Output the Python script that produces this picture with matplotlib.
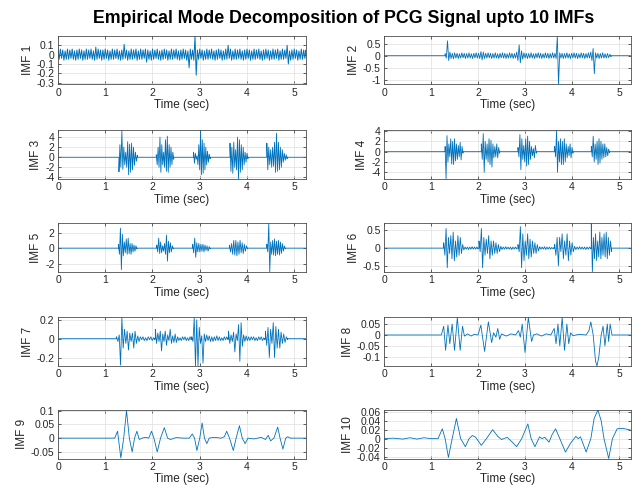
import numpy as np
import matplotlib
matplotlib.use('Agg')
import matplotlib.pyplot as plt
from matplotlib.ticker import FuncFormatter

plt.rcParams['font.family'] = ['Liberation Sans', 'DejaVu Sans']
plt.rcParams['axes.unicode_minus'] = False

T_END = 5.25
LINE_COLOR = '#0072BD'

# ---- bursty IMFs: burst start / end times (sec) and the peaks read inside each burst ----
imf1_on = [0.0]
imf1_off = [5.25]
imf1_vals = [[
    0.05, -0.05, 0.06, -0.04, 0.05, -0.06, 0.04, -0.05, 0.06, -0.05,
    0.05, -0.04, 0.06, -0.05, 0.04, -0.06, 0.05, -0.05, 0.06, -0.04,
    0.05, -0.06, 0.04, -0.05, 0.06, -0.05, 0.05, -0.04, 0.06, -0.05,
    0.04, -0.06, 0.08, -0.05, 0.06, -0.04, 0.05, -0.06, 0.05, -0.05,
    0.06, -0.04, 0.05, -0.06, 0.04, -0.05, 0.06, -0.05, 0.05, -0.04,
    0.06, -0.05, 0.04, -0.06, 0.05, -0.05, 0.11, -0.04, 0.05, -0.06,
    0.04, -0.05, 0.06, -0.05, 0.05, -0.04, 0.06, -0.06, 0.04, -0.05,
    0.06, -0.05, 0.05, -0.04, 0.06, -0.08, 0.05, -0.05, 0.04, -0.06,
    0.06, -0.05, 0.05, -0.04, 0.06, -0.05, 0.04, -0.06, 0.05, -0.05,
    0.06, -0.04, 0.05, -0.06, 0.04, -0.05, 0.06, -0.05, 0.05, -0.04,
    0.06, -0.05, 0.04, -0.06, 0.05, -0.05, 0.06, -0.04, 0.05, -0.06,
    0.04, -0.14, 0.06, -0.05, 0.05, -0.06, 0.20, -0.22, 0.05, -0.05,
    0.06, -0.04, 0.05, -0.06, 0.04, -0.05, 0.06, -0.05, 0.05, -0.04,
    0.06, -0.05, 0.04, -0.06, 0.05, -0.05, 0.06, -0.04, 0.05, -0.06,
    0.04, -0.05, 0.06, -0.05, 0.10, -0.04, 0.06, -0.06, 0.04, -0.05,
    0.06, -0.05, 0.05, -0.04, 0.06, -0.05, 0.04, -0.06, 0.05, -0.05,
    0.06, -0.04, 0.05, -0.06, 0.04, -0.05, 0.06, -0.05, 0.05, -0.04,
    0.06, -0.05, 0.04, -0.06, 0.05, -0.05, 0.06, -0.04, 0.05, -0.06,
    0.04, -0.05, 0.06, -0.05, 0.05, -0.04, 0.06, -0.06, 0.04, -0.05,
    0.06, -0.05, 0.05, -0.04, 0.10, -0.10, 0.04, -0.06, 0.05, -0.05,
    0.06, -0.04, 0.05, -0.06, 0.04, -0.05, 0.06, -0.05, 0.05, -0.04, 0.05]]

imf2_on = [1.30]
imf2_off = [4.83]
imf2_vals = [[
    0.08, -0.10, 0.62, -0.20, 0.15, -0.12, 0.10, -0.13, 0.12, -0.10,
    0.10, -0.12, 0.08, -0.10, 0.12, -0.09, 0.10, -0.12, 0.09, -0.10,
    0.12, -0.10, 0.08, -0.12, 0.10, -0.09, 0.12, -0.10, 0.10, -0.12,
    0.17, -0.17, 0.15, -0.12, 0.10, -0.10, 0.12, -0.09, 0.10, -0.12,
    0.09, -0.10, 0.12, -0.10, 0.08, -0.12, 0.10, -0.09, 0.12, -0.10,
    0.10, -0.12, 0.08, -0.10, 0.12, -0.09, 0.10, -0.12, 0.09, -0.10,
    0.15, -0.20, 0.45, -0.30, 0.20, -0.15, 0.12, -0.10, 0.10, -0.12,
    0.09, -0.10, 0.12, -0.10, 0.08, -0.12, 0.10, -0.09, 0.12, -0.10,
    0.10, -0.12, 0.08, -0.10, 0.12, -0.09, 0.10, -0.12, 0.09, -0.10,
    0.12, -0.10, 0.10, -0.12, 0.82, -1.20, 0.12, -0.10, 0.10, -0.12,
    0.09, -0.10, 0.12, -0.10, 0.08, -0.12, 0.10, -0.09, 0.12, -0.10,
    0.10, -0.12, 0.08, -0.10, 0.12, -0.09, 0.10, -0.12, 0.09, -0.10,
    0.12, -0.10, 0.15, -0.20, 0.30, -0.75, 0.12, -0.10, 0.10, -0.12,
    0.09, -0.10, 0.12, -0.10, 0.08, -0.10, 0.09, -0.08, 0.06, -0.04]]

imf3_on = [1.29, 2.08, 2.87, 3.64, 4.42]
imf3_off = [1.68, 2.45, 3.22, 4.02, 4.85]
imf3_vals = [
    [-2.9, 2.5, -2.0, 5.3, -2.4, 2.0, -1.5, 1.0, -2.0, 3.1, -3.5, 2.6, -3.0, 2.8, -2.5, 2.0, -1.6, 1.0, -0.8, 0.4],
    [0.5, -1.5, 2.0, -2.0, 4.0, -3.0, 2.5, -1.5, 1.0, -2.0, 3.5, -2.8, 4.2, -3.0, 2.5, -2.0, 2.0, -1.5, 1.0, -0.4],
    [1.0, -1.2, 0.8, -0.4, 0.3, -1.5, 2.5, -2.5, 5.3, -3.5, 3.5, -3.2, 2.8, -2.5, 2.0, -1.5, 1.2, -1.0, 0.6, -0.3],
    [2.8, -2.8, 2.0, -3.2, 3.0, -2.0, 1.5, -2.5, 4.0, -4.3, 3.5, -3.0, 2.5, -2.5, 2.0, -1.5, 1.0, -1.0, 0.8, -0.3],
    [2.8, -2.5, 2.0, -1.5, 1.5, -2.0, 2.0, -1.8, 3.0, -3.0, 4.8, -2.8, 3.0, -2.5, 2.0, -2.0, 1.5, -1.0, 0.8, -0.6, 0.5, -0.3],
]

imf4_on = [1.30, 2.07, 2.85, 3.63, 4.41]
imf4_off = [1.68, 2.46, 3.24, 4.02, 4.80]
imf4_vals = [
    [1.0, -5.3, 3.1, -2.0, 1.5, -1.0, 2.5, -2.4, 2.0, -2.5, 2.5, -1.8, 1.5, -1.5, 1.2, -1.0, 1.8, -1.6, 1.0, -0.3],
    [1.5, -1.5, 3.5, -4.0, 2.0, -1.5, 1.5, -2.0, 2.5, -2.5, 2.2, -3.0, 1.5, -1.2, 1.0, -1.0, 1.5, -1.2, 0.8, -0.3],
    [0.8, -1.0, 3.3, -3.5, 2.5, -1.5, 1.2, -2.0, 2.5, -2.8, 3.0, -2.5, 2.0, -1.5, 1.0, -0.8, 0.6, -1.2, 1.2, -0.3],
    [1.0, -1.0, 4.1, -4.0, 2.0, -2.0, 2.5, -2.5, 2.0, -2.5, 2.5, -2.0, 1.5, -1.2, 1.0, -0.8, 1.5, -1.2, 0.8, -0.3],
    [1.0, -1.0, 3.0, -2.0, 1.5, -1.5, 2.0, -2.5, 2.5, -2.2, 2.0, -1.5, 1.5, -1.2, 1.5, -1.0, 0.8, -0.8, 0.5, -0.2],
]

imf5_on = [1.28, 2.09, 2.85, 3.63, 4.42]
imf5_off = [1.67, 2.44, 3.22, 4.01, 4.81]
imf5_vals = [
    [0.5, -0.8, 2.6, -2.8, 1.8, -1.0, 0.8, -0.6, 1.2, -0.8, 1.3, -0.7, 0.6, -0.8, 0.6, -0.5, 0.4, -0.4, 0.3, -0.1],
    [0.4, -0.5, 1.3, -0.7, 0.8, -0.6, 0.3, -0.4, 0.6, -0.8, 1.7, -1.7, 0.9, -0.6, 0.7, -0.5, 0.3, -0.1],
    [0.5, -0.6, 1.3, -1.2, 0.7, -0.5, 0.6, -0.5, 0.5, -0.4, 0.5, -0.5, 0.4, -0.3, 0.3, -0.4, 0.2, -0.1],
    [0.4, -0.5, 0.6, -0.8, 1.0, -0.9, 1.0, -1.0, 0.8, -0.8, 1.0, -0.6, 0.7, -0.7, 0.5, -0.4, 0.3, -0.1],
    [0.5, -0.5, 3.2, -3.1, 0.8, -0.8, 1.0, -0.9, 1.2, -1.0, 0.9, -0.8, 1.0, -0.9, 0.8, -0.7, 0.6, -0.4, 0.3, -0.1],
]

imf6_on = [1.27, 2.02, 2.85, 3.63, 4.41]
imf6_off = [2.00, 2.82, 3.62, 4.40, 4.84]
imf6_vals = [
    [0.15, -0.2, 0.55, -0.55, 0.3, -0.15, 0.35, -0.3, 0.45, -0.35, 0.2, -0.25, 0.35, -0.2, 0.3, -0.15, 0.1, -0.05,
     0.03, -0.03, 0.03, -0.04, 0.03, -0.03, 0.04, -0.03, 0.03, -0.03, 0.03, -0.02],
    [0.2, -0.1, 0.55, -0.55, 0.3, -0.2, 0.25, -0.15, 0.35, -0.3, 0.2, -0.2, 0.2, -0.15, 0.15, -0.15, 0.1, -0.1,
     0.05, -0.04, 0.03, -0.03, 0.04, -0.03, 0.03, -0.03, 0.03, -0.04, 0.03, -0.03, 0.03, -0.02],
    [0.1, -0.1, 0.6, -0.55, 0.4, -0.35, 0.2, -0.2, 0.4, -0.3, 0.25, -0.25, 0.2, -0.15, 0.15, -0.15, 0.1, -0.08,
     0.04, -0.03, 0.03, -0.03, 0.04, -0.04, 0.03, -0.03, 0.03, -0.03, 0.02, -0.02, 0.02],
    [0.1, -0.2, 0.3, -0.5, 0.3, -0.1, 0.4, -0.3, 0.2, -0.2, 0.4, -0.35, 0.2, -0.2, 0.15, -0.1, 0.05, -0.04,
     0.03, -0.03, 0.04, -0.03, 0.03, -0.03, 0.03, -0.04, 0.03, -0.03, 0.03, -0.02],
    [0.69, -0.67, 0.3, -0.3, 0.4, -0.35, 0.2, -0.25, 0.45, -0.3, 0.3, -0.2, 0.4, -0.25, 0.45, -0.3, 0.3, -0.2, 0.2, -0.1],
]

imf7_on = [1.24, 2.06, 2.83, 3.61, 4.39]
imf7_off = [2.05, 2.82, 3.60, 4.38, 4.86]
imf7_vals = [
    [0.02, -0.03, 0.04, -0.28, 0.22, -0.1, 0.1, -0.05, 0.08, -0.12, 0.06, -0.03, 0.06, -0.1, 0.08, -0.05, 0.03, -0.03,
     0.02, -0.01, 0.02, -0.02, 0.01, -0.02, 0.02, -0.01, 0.02, -0.02, 0.01, -0.01],
    [0.1, -0.05, 0.06, -0.03, 0.08, -0.13, 0.05, -0.03, 0.08, -0.07, 0.04, -0.02, 0.1, -0.05, 0.03, -0.04, 0.05, -0.04,
     0.02, -0.02, 0.01, -0.02, 0.02, -0.01, 0.02, -0.02, 0.01, -0.02, 0.02, -0.01],
    [0.02, -0.03, 0.22, -0.29, 0.2, -0.29, 0.12, -0.05, 0.03, -0.26, 0.05, -0.03, 0.04, -0.02,
     0.03, -0.03, 0.02, -0.03, 0.02, -0.02, 0.03, -0.02, 0.02, -0.02, 0.01, -0.02, 0.02, -0.01, 0.02, -0.01],
    [0.08, -0.05, 0.04, -0.03, 0.07, -0.14, 0.05, -0.02, 0.15, -0.24, 0.17, -0.08, 0.04, -0.03, 0.03, -0.02,
     0.02, -0.02, 0.02, -0.01, 0.02, -0.02, 0.01, -0.02, 0.02, -0.01, 0.02, -0.02, 0.01, -0.01],
    [0.08, -0.07, 0.12, -0.2, 0.1, -0.05, 0.17, -0.2, 0.13, -0.1, 0.1, -0.1, 0.07, -0.05, 0.05, -0.04, 0.02, -0.01],
]

# ---- smooth IMFs: extrema / crossings ----
imf8_t = [0.0, 1.22, 1.27, 1.31, 1.36, 1.40, 1.45, 1.50, 1.56, 1.62, 1.67, 1.71, 1.78, 1.85, 1.92, 2.00, 2.06, 2.14,
          2.22, 2.29, 2.33, 2.38, 2.42, 2.46, 2.50, 2.60, 2.70, 2.80, 2.86, 2.90, 2.94, 3.00, 3.07, 3.14, 3.18, 3.25,
          3.35, 3.45, 3.55, 3.62, 3.66, 3.70, 3.74, 3.79, 3.84, 3.89, 3.93, 3.97, 4.02, 4.15, 4.30, 4.36, 4.40, 4.45,
          4.50, 4.53, 4.57, 4.62, 4.66, 4.70, 4.75, 4.78, 4.81, 4.85, 5.25]
imf8_v = [0.0, 0.0, 0.04, -0.07, 0.045, -0.04, 0.05, -0.07, 0.08, -0.07, 0.04, -0.005, 0.005, -0.005, 0.003, 0.0, 0.045,
          -0.075, 0.06, -0.035, 0.01, -0.01, 0.03, -0.02, 0.005, -0.005, 0.005, 0.0, 0.02, -0.01, 0.05, -0.08, 0.08,
          -0.03, 0.0, 0.005, -0.005, 0.005, 0.0, 0.03, -0.04, 0.05, -0.05, 0.08, -0.07, 0.05, -0.04, 0.01, -0.003,
          0.003, 0.0, 0.02, 0.06, 0.0, -0.12, -0.142, -0.10, 0.0, 0.04, -0.05, 0.05, -0.03, 0.05, 0.0, 0.0]

imf9_t = [0.0, 1.20, 1.26, 1.33, 1.39, 1.45, 1.51, 1.57, 1.62, 1.67, 1.72, 1.78, 1.85, 1.92, 1.98, 2.03, 2.10, 2.17,
          2.25, 2.32, 2.38, 2.50, 2.65, 2.78, 2.84, 2.89, 2.94, 3.00, 3.05, 3.10, 3.15, 3.20, 3.30, 3.45, 3.52, 3.57,
          3.63, 3.71, 3.77, 3.84, 3.90, 3.96, 4.02, 4.15, 4.30, 4.39, 4.45, 4.50, 4.57, 4.65, 4.70, 4.76, 4.82, 4.86,
          4.92, 5.25]
imf9_v = [0.0, 0.0, 0.025, -0.072, 0.0, 0.1, 0.0, -0.05, 0.0, 0.025, -0.005, 0.0, 0.003, 0.0, 0.025, 0.0, -0.05, 0.0,
          0.038, 0.0, -0.005, 0.002, 0.0, 0.0, 0.015, 0.0, -0.045, 0.0, 0.055, 0.0, -0.02, 0.0, 0.003, 0.0, 0.005,
          0.025, 0.0, -0.045, 0.0, 0.045, 0.0, -0.02, 0.0, -0.003, 0.003, -0.005, 0.01, -0.01, 0.0, 0.04, 0.0, -0.04,
          0.0, 0.005, 0.0, 0.0]

imf10_t = [0.0, 0.2, 0.4, 0.55, 0.7, 0.85, 1.0, 1.15, 1.24, 1.30, 1.37, 1.45, 1.54, 1.63, 1.73, 1.81, 1.88, 1.95,
           2.07, 2.18, 2.31, 2.42, 2.50, 2.62, 2.73, 2.82, 2.93, 3.06, 3.13, 3.21, 3.31, 3.36, 3.42, 3.51, 3.58, 3.65,
           3.74, 3.86, 3.97, 4.08, 4.13, 4.18, 4.30, 4.40, 4.47, 4.55, 4.62, 4.68, 4.78, 4.86, 4.96, 5.08, 5.25]
imf10_v = [0.0, 0.001, -0.001, 0.002, -0.001, 0.002, 0.0, 0.0, 0.022, 0.0, -0.042, 0.0, 0.045, 0.0, -0.018, 0.0,
           0.007, 0.003, -0.015, 0.0, 0.02, 0.005, -0.002, 0.003, -0.008, -0.018, 0.0, 0.033, 0.0, -0.018, 0.004,
           0.0, 0.003, -0.008, 0.01, 0.022, 0.0, -0.03, -0.01, 0.005, 0.0, 0.004, -0.03, 0.0, 0.045, 0.064, 0.04,
           0.0, -0.0445, 0.0, 0.022, 0.023, 0.019]

ylims = [(-0.32, 0.2), (-1.2, 0.82), (-4.33, 5.33), (-5.3, 4.1), (-3.1, 3.2),
         (-0.67, 0.69), (-0.29, 0.225), (-0.142, 0.08), (-0.074, 0.102), (-0.0445, 0.064)]
yticks = [[-0.3, -0.2, -0.1, 0, 0.1], [-1, -0.5, 0, 0.5], [-4, -2, 0, 2, 4], [-4, -2, 0, 2, 4], [-2, 0, 2],
          [-0.5, 0, 0.5], [-0.2, 0, 0.2], [-0.1, -0.05, 0, 0.05], [-0.05, 0, 0.05, 0.1],
          [-0.04, -0.02, 0, 0.02, 0.04, 0.06]]


def burst_trace(on, off, vals):
    t, v = [0.0], [0.0]
    for a, b, seg in zip(on, off, vals):
        t += [a] + list(np.linspace(a, b, len(seg))) + [b]
        v += [0.0] + list(seg) + [0.0]
    t.append(T_END)
    v.append(0.0)
    return t, v


traces = [burst_trace(imf1_on, imf1_off, imf1_vals),
          burst_trace(imf2_on, imf2_off, imf2_vals),
          burst_trace(imf3_on, imf3_off, imf3_vals),
          burst_trace(imf4_on, imf4_off, imf4_vals),
          burst_trace(imf5_on, imf5_off, imf5_vals),
          burst_trace(imf6_on, imf6_off, imf6_vals),
          burst_trace(imf7_on, imf7_off, imf7_vals),
          (imf8_t, imf8_v), (imf9_t, imf9_v), (imf10_t, imf10_v)]
line_w = [0.7, 0.6, 0.6, 0.6, 0.6, 0.6, 0.6, 0.6, 0.6, 0.6]

fig = plt.figure(figsize=(6.36, 4.95), dpi=100)
lefts = [0.0912, 0.6038]
widths = [0.390, 0.388]
bottoms = [0.8293, 0.6384, 0.4505, 0.2606, 0.0737]
height = 0.098

fmt = FuncFormatter(lambda val, pos: '%g' % (round(val, 6) + 0.0))

for k in range(10):
    row, col = k // 2, k % 2
    ax = fig.add_axes([lefts[col], bottoms[row], widths[col], height])
    t, v = traces[k]
    ax.plot(t, v, color=LINE_COLOR, lw=line_w[k])
    ax.set_xlim(0, T_END)
    ax.set_ylim(*ylims[k])
    ax.set_xticks([0, 1, 2, 3, 4, 5])
    ax.set_yticks(yticks[k])
    ax.yaxis.set_major_formatter(fmt)
    ax.grid(True, color='#dedede', lw=0.5)
    ax.set_axisbelow(True)
    ax.tick_params(direction='in', length=2.5, width=0.5, top=True, right=True,
                   labelsize=7.5, pad=2.5, colors='0.15')
    for sp in ax.spines.values():
        sp.set_color('0.3')
        sp.set_linewidth(0.6)
    ax.set_xlabel('Time (sec)', fontsize=8.5, labelpad=1, color='0.15')
    ax.set_ylabel('IMF %d' % (k + 1), fontsize=8.5, labelpad=2, color='0.15')

fig.text(0.541, 0.9636, 'Empirical Mode Decomposition of PCG Signal upto 10 IMFs',
         ha='center', va='center', fontsize=12.8, fontweight='bold')

plt.savefig('out.png', dpi=100)
